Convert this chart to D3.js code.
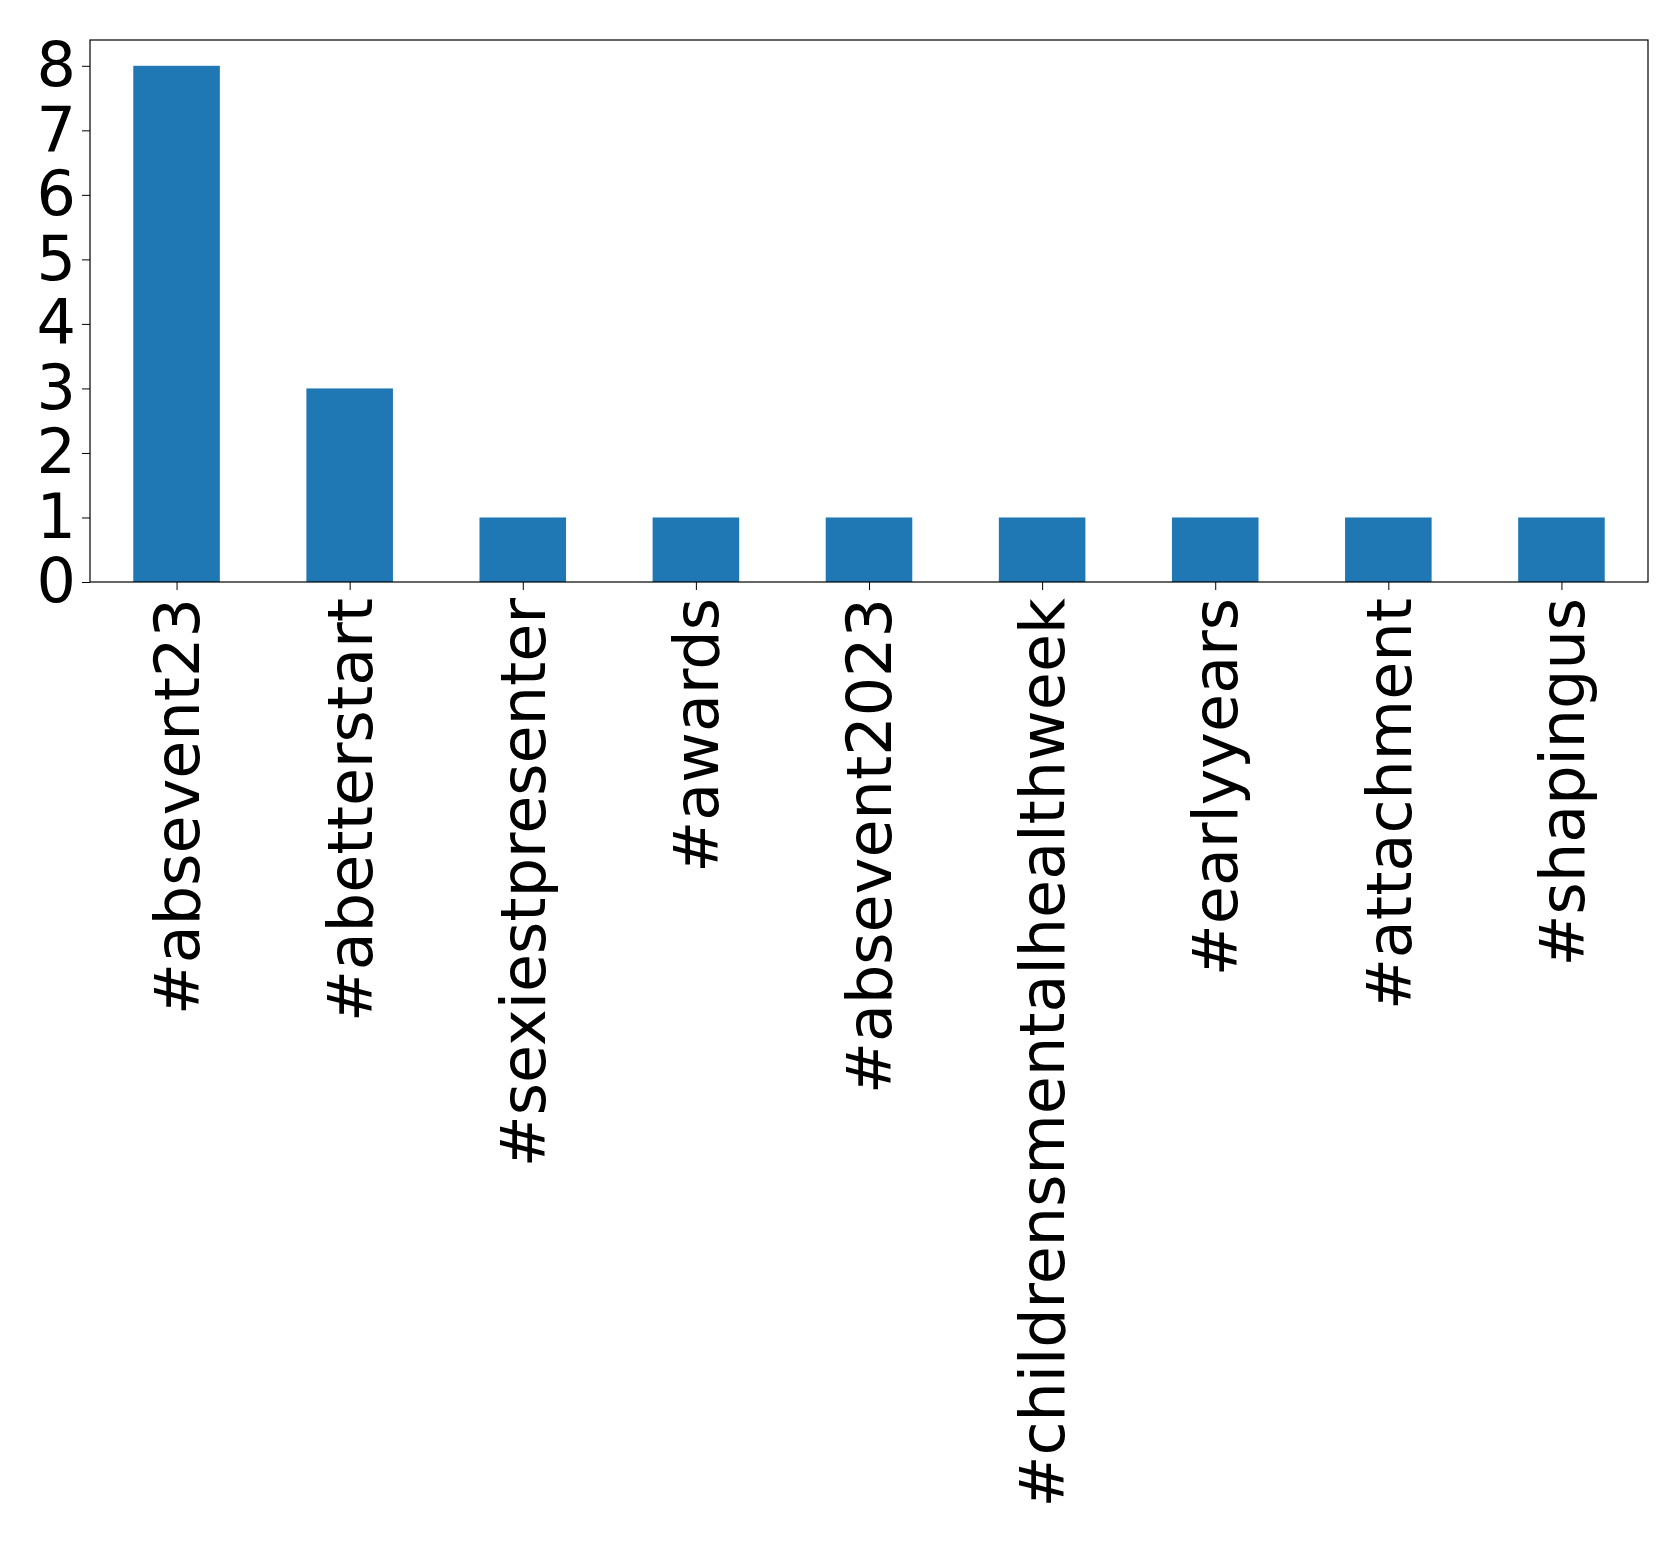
<!DOCTYPE html>
<html><head><meta charset="utf-8">
<script src="https://cdn.jsdelivr.net/npm/d3@7"></script>
<style>body{margin:0;background:#fff}</style>
</head><body>
<script>
const categories = ["#absevent23","#abetterstart","#sexiestpresenter","#awards","#absevent2023","#childrensmentalhealthweek","#earlyyears","#attachment","#shapingus"];
const counts = [8,3,1,1,1,1,1,1,1];
const yTicks = [0,1,2,3,4,5,6,7,8];

const W=1679,H=1545, L=90, R=1648, T=40, B=582;
const svg=d3.select("body").append("svg").attr("width",W).attr("height",H);
const x=d3.scaleLinear().domain([-0.5,categories.length-0.5]).range([L,R]);
const y=d3.scaleLinear().domain([0,8.4]).range([B,T]);
const bw=x(0.5)-x(0);
svg.selectAll("rect.bar").data(counts).join("rect").attr("class","bar")
 .attr("x",(d,i)=>x(i)-bw/2).attr("width",bw)
 .attr("y",d=>y(d)).attr("height",d=>y(0)-y(d)).attr("fill","#1f77b4");
svg.append("rect").attr("x",L).attr("y",T).attr("width",R-L).attr("height",B-T)
 .attr("fill","none").attr("stroke","#000").attr("stroke-width",1.2);
const ya=svg.append("g").attr("transform",`translate(${L},0)`)
 .call(d3.axisLeft(y).tickValues(yTicks).tickSize(8).tickPadding(6));
ya.select(".domain").remove();
ya.selectAll("text").attr("font-family","DejaVu Sans").attr("font-size",62).attr("fill","#000");
const xa=svg.append("g").attr("transform",`translate(0,${B})`)
 .call(d3.axisBottom(x).tickValues(d3.range(categories.length)).tickFormat(i=>categories[i]).tickSize(8).tickPadding(6));
xa.select(".domain").remove();
xa.selectAll("text").attr("font-family","DejaVu Sans").attr("font-size",62).attr("fill","#000")
 .attr("transform","rotate(-90)").attr("text-anchor","end").attr("dy","0.35em").attr("x",-16).attr("y",0);
</script>
</body></html>
